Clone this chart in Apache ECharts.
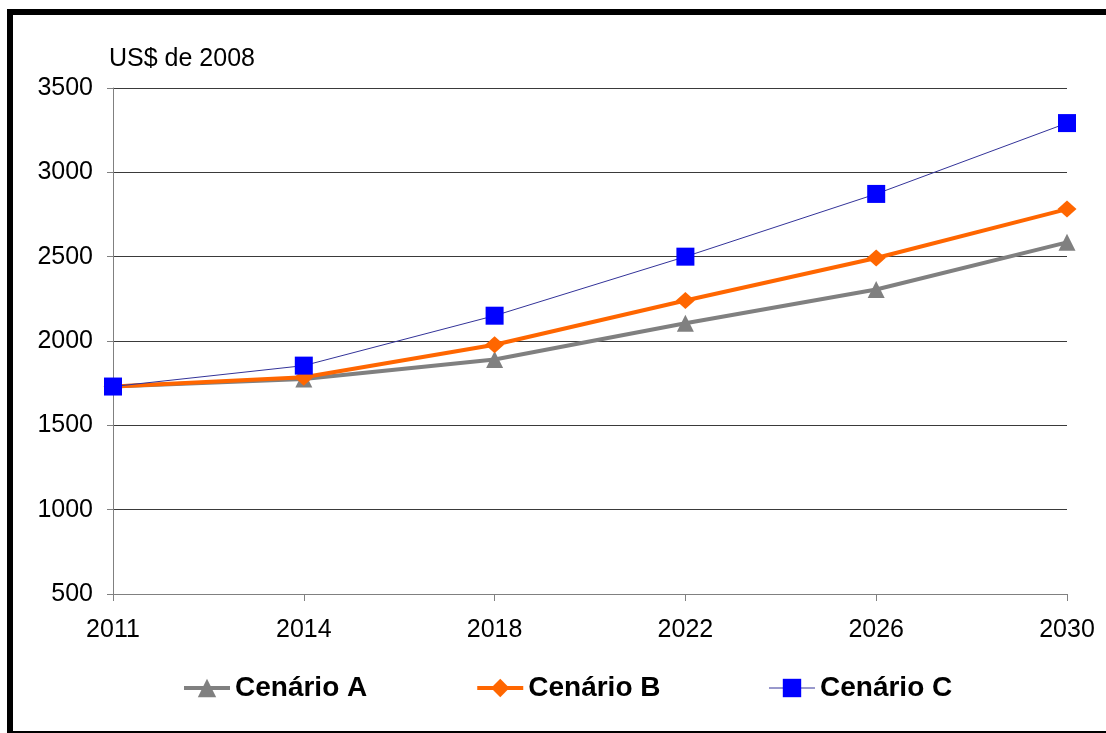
<!DOCTYPE html>
<html>
<head>
<meta charset="utf-8">
<style>
  html, body { margin: 0; padding: 0; background: #fff; }
  #chart { width: 1106px; height: 733px; }
</style>
<script src="https://cdn.jsdelivr.net/npm/echarts@6/dist/echarts.min.js"></script>
</head>
<body>
<div id="chart"></div>
<script>
// Anos projetados
const anos = ['2011', '2014', '2018', '2022', '2026', '2030'];

// PIB per capita por cenário (US$ de 2008)
const cenarioA = [1730, 1775, 1890, 2105, 2305, 2585];
const cenarioB = [1730, 1785, 1978, 2240, 2492, 2782];
const cenarioC = [1730, 1854, 2150, 2500, 2872, 3292];

const nomes = ['Cenário A', 'Cenário B', 'Cenário C'];
const unidade = 'US$ de 2008';

const fonte = '"Liberation Sans", Arial, sans-serif';

const chart = echarts.init(document.getElementById('chart'), null, { renderer: 'canvas' });

chart.setOption({
  backgroundColor: '#ffffff',
  animation: false,
  graphic: [{
    type: 'rect',
    z: 100,
    silent: true,
    shape: { x: 10, y: 12, width: 1110, height: 722 },
    style: { fill: 'none', stroke: '#000', lineWidth: 6 }
  }],
  grid: { left: 113, right: 39, top: 88, bottom: 139 },
  legend: {
    left: 182,
    top: 674,
    padding: 0,
    itemGap: 108,
    itemWidth: 46,
    itemHeight: 23,
    textStyle: { fontFamily: fonte, fontSize: 28, fontWeight: 'bold', color: '#000' },
    data: [
      { name: nomes[0], lineStyle: { width: 4 } },
      { name: nomes[1], lineStyle: { width: 4 } },
      { name: nomes[2], lineStyle: { width: 1 } }
    ]
  },
  xAxis: {
    type: 'category',
    data: anos,
    boundaryGap: false,
    axisLine: { lineStyle: { color: '#808080', width: 1 } },
    axisTick: { show: true, length: 7, lineStyle: { color: '#808080' } },
    axisLabel: { fontFamily: fonte, fontSize: 25, color: '#000', margin: 24 },
    splitLine: { show: false }
  },
  yAxis: {
    type: 'value',
    min: 500,
    max: 3500,
    interval: 500,
    name: unidade,
    nameLocation: 'end',
    nameGap: 16,
    nameTextStyle: { fontFamily: fonte, fontSize: 25, color: '#000', align: 'left', padding: [0, 0, 0, -4] },
    axisLine: { show: true, lineStyle: { color: '#808080', width: 1 } },
    axisTick: { show: true, length: 6, lineStyle: { color: '#808080' } },
    axisLabel: {
      fontFamily: fonte, fontSize: 25, color: '#000', margin: 20,
      formatter: function (v) { return String(v); }
    },
    splitLine: { show: true, lineStyle: { color: '#3a3a3a', width: 1 } }
  },
  series: [
    {
      name: nomes[0],
      type: 'line',
      data: cenarioA,
      symbol: 'triangle',
      symbolSize: 17,
      lineStyle: { color: '#808080', width: 4 },
      itemStyle: { color: '#808080' },
      z: 2
    },
    {
      name: nomes[1],
      type: 'line',
      data: cenarioB,
      symbol: 'diamond',
      symbolSize: [19, 17],
      lineStyle: { color: '#ff6600', width: 4 },
      itemStyle: { color: '#ff6600' },
      z: 3
    },
    {
      name: nomes[2],
      type: 'line',
      data: cenarioC,
      symbol: 'rect',
      symbolSize: 18,
      lineStyle: { color: '#333399', width: 1 },
      itemStyle: { color: '#0000ff' },
      z: 4
    }
  ]
});
</script>
</body>
</html>
